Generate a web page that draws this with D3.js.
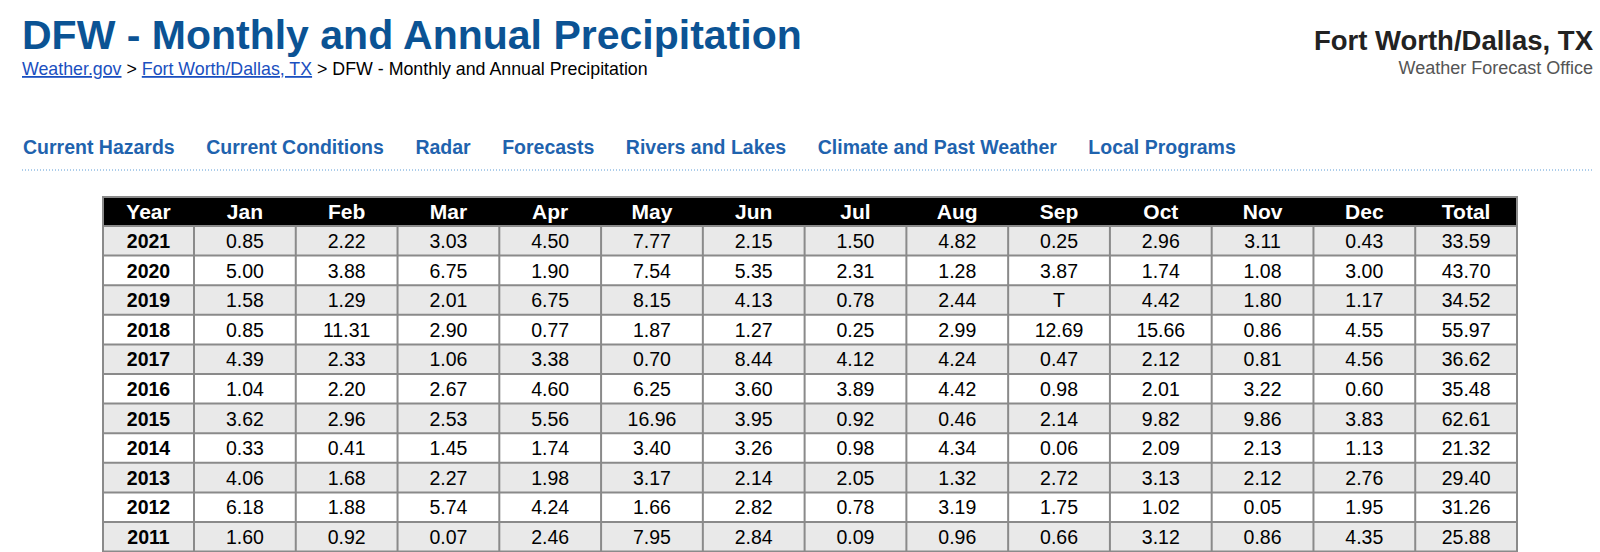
<!DOCTYPE html>
<html><head><meta charset="utf-8">
<script src="https://cdn.jsdelivr.net/npm/d3@7"></script>
<style>body{margin:0;background:#fff;overflow:hidden}</style>
</head><body><div id="page"></div>
<script>
const width = 1600, height = 552;
const months = ["Jan","Feb","Mar","Apr","May","Jun","Jul","Aug","Sep","Oct","Nov","Dec"];
const rows = [
    [2021, "0.85","2.22","3.03","4.50","7.77","2.15","1.50","4.82","0.25","2.96","3.11","0.43","33.59"],
    [2020, "5.00","3.88","6.75","1.90","7.54","5.35","2.31","1.28","3.87","1.74","1.08","3.00","43.70"],
    [2019, "1.58","1.29","2.01","6.75","8.15","4.13","0.78","2.44","T","4.42","1.80","1.17","34.52"],
    [2018, "0.85","11.31","2.90","0.77","1.87","1.27","0.25","2.99","12.69","15.66","0.86","4.55","55.97"],
    [2017, "4.39","2.33","1.06","3.38","0.70","8.44","4.12","4.24","0.47","2.12","0.81","4.56","36.62"],
    [2016, "1.04","2.20","2.67","4.60","6.25","3.60","3.89","4.42","0.98","2.01","3.22","0.60","35.48"],
    [2015, "3.62","2.96","2.53","5.56","16.96","3.95","0.92","0.46","2.14","9.82","9.86","3.83","62.61"],
    [2014, "0.33","0.41","1.45","1.74","3.40","3.26","0.98","4.34","0.06","2.09","2.13","1.13","21.32"],
    [2013, "4.06","1.68","2.27","1.98","3.17","2.14","2.05","1.32","2.72","3.13","2.12","2.76","29.40"],
    [2012, "6.18","1.88","5.74","4.24","1.66","2.82","0.78","3.19","1.75","1.02","0.05","1.95","31.26"],
    [2011, "1.60","0.92","0.07","2.46","7.95","2.84","0.09","0.96","0.66","3.12","0.86","4.35","25.88"]
];
const nav = ["Current Hazards","Current Conditions","Radar","Forecasts","Rivers and Lakes","Climate and Past Weather","Local Programs"];
const blue = "#0b5394", font = "Liberation Sans, Arial, sans-serif";

const svg = d3.select("#page").append("svg")
    .attr("width", width).attr("height", height)
    .style("font-family", font);

// page header
svg.append("text").attr("x", 22).attr("y", 49).attr("fill", blue)
    .attr("font-size", 41).attr("font-weight", "bold").text("DFW - Monthly and Annual Precipitation");
const crumb = svg.append("text").attr("x", 22).attr("y", 75).attr("font-size", 17.8).attr("fill", "#000");
crumb.append("tspan").attr("fill", "#1a4fc0").attr("text-decoration", "underline").text("Weather.gov");
crumb.append("tspan").text(" > ");
crumb.append("tspan").attr("fill", "#1a4fc0").attr("text-decoration", "underline").text("Fort Worth/Dallas, TX");
crumb.append("tspan").text(" > DFW - Monthly and Annual Precipitation");
svg.append("text").attr("x", 1593).attr("y", 50).attr("text-anchor", "end")
    .attr("font-size", 27.5).attr("font-weight", "bold").attr("fill", "#222").text("Fort Worth/Dallas, TX");
svg.append("text").attr("x", 1593).attr("y", 74).attr("text-anchor", "end")
    .attr("font-size", 18).attr("fill", "#555").text("Weather Forecast Office");

// nav bar
let nx = 23;
nav.forEach(n => {
    const t = svg.append("text").attr("x", nx).attr("y", 154).attr("font-size", 19.5)
        .attr("font-weight", "bold").attr("fill", "#1f63ae").text(n);
    nx += t.node().getComputedTextLength() + 31.5;
});
svg.append("line").attr("x1", 22).attr("x2", 1593).attr("y1", 170).attr("y2", 170)
    .attr("stroke", "#5b9bd5").attr("stroke-dasharray", "1,2");

// table
const cols = ["Year", ...months, "Total"];
const tableL = 103, yearW = 91, tableR = 1517;
const x = d3.scaleBand().domain(cols.slice(1)).range([tableL + yearW, tableR]);
const colX = c => c === "Year" ? tableL : x(c);
const colW = c => c === "Year" ? yearW : x.bandwidth();
const headH = 29, rowH = 29.6, tableT = 197;
const y = d3.scaleBand().domain(d3.range(rows.length + 1))
    .range([tableT + headH, tableT + headH + rowH * (rows.length + 1)]);

const t = svg.append("g");
t.append("rect").attr("x", tableL).attr("y", tableT).attr("width", tableR - tableL).attr("height", headH).attr("fill", "#000");
t.selectAll("text.h").data(cols).join("text").attr("class", "h")
    .attr("x", c => colX(c) + colW(c) / 2).attr("y", tableT + 22).attr("text-anchor", "middle")
    .attr("fill", "#fff").attr("font-size", 21).attr("font-weight", "bold").text(c => c);

const r = t.selectAll("g.row").data(rows).join("g").attr("class", "row")
    .attr("transform", (d, i) => `translate(0,${y(i)})`);
r.append("rect").attr("x", tableL).attr("width", tableR - tableL).attr("height", rowH)
    .attr("fill", (d, i) => i % 2 ? "#fff" : "#e9e9e9");
r.selectAll("text").data(d => d.map((v, j) => ({c: cols[j], v}))).join("text")
    .attr("x", d => colX(d.c) + colW(d.c) / 2).attr("y", 22).attr("text-anchor", "middle")
    .attr("font-size", 19.5).attr("font-weight", d => d.c === "Year" ? "bold" : "normal")
    .attr("fill", "#000").text(d => d.v);

// grid lines
const bottom = height + 10;
const grid = t.append("g").attr("stroke", "#8a8a8a").attr("stroke-width", 2).attr("fill", "none");
grid.selectAll("line.v").data(cols.slice(1).map(colX)).join("line")
    .attr("x1", d => d).attr("x2", d => d).attr("y1", tableT + headH).attr("y2", bottom);
grid.selectAll("line.hz").data(d3.range(rows.length + 1)).join("line")
    .attr("x1", tableL).attr("x2", tableR).attr("y1", i => y(i)).attr("y2", i => y(i));
t.append("rect").attr("x", tableL).attr("y", tableT).attr("width", tableR - tableL).attr("height", bottom - tableT)
    .attr("fill", "none").attr("stroke", "#8a8a8a").attr("stroke-width", 2);
</script></body></html>
